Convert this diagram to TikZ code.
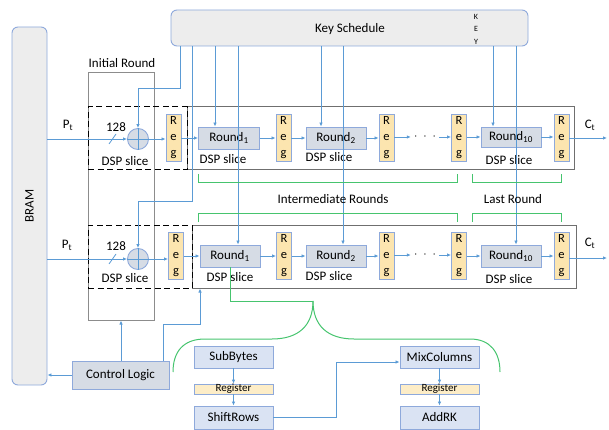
\documentclass[tikz,border=0pt]{standalone}
\usepackage{fontspec}
\setmainfont{Carlito}
\usetikzlibrary{arrows.meta}

\definecolor{lnc}{HTML}{5B9BD5}
\definecolor{bdr}{HTML}{8EA9DB}
\definecolor{rfill}{HTML}{D6DCE5}
\definecolor{sfill}{HTML}{DAE3F3}
\definecolor{regfill}{HTML}{FCE5AF}
\definecolor{keyfill}{HTML}{EDEDED}
\definecolor{grn}{HTML}{46C46E}
\definecolor{framec}{HTML}{6F6F6F}

\tikzset{
  every node/.style={font=\fontsize{13}{15}\selectfont, inner sep=0pt},
  ln/.style={draw=lnc, line width=0.8pt},
  arr/.style={ln, -{Latex[length=4pt,width=3.5pt]}},
  grnline/.style={draw=grn, line width=1pt},
  roundbox/.style={draw=bdr, fill=rfill, line width=0.9pt, minimum width=61pt, minimum height=22pt},
  regbox/.style={draw=bdr, fill=regfill, line width=0.9pt, minimum width=15pt, minimum height=47pt,
    align=center, font=\fontsize{12.5}{16}\selectfont},
  stagebox/.style={draw=bdr, fill=sfill, line width=0.9pt, minimum width=79pt, minimum height=22pt},
  thinreg/.style={draw=bdr, fill=regfill!70, line width=0.8pt, minimum width=79pt, minimum height=10pt,
    font=\fontsize{11}{12}\selectfont},
  framebox/.style={draw=framec, line width=1pt},
  dashbox/.style={draw=black, line width=1pt, dash pattern=on 6pt off 3.5pt},
  adder/.style={circle, draw=bdr, fill=rfill, line width=0.9pt, minimum size=21pt},
  memory/.style={draw=bdr, fill=keyfill, line width=0.9pt, rounded corners=6pt},
}

\begin{document}
\begin{tikzpicture}[x=1pt,y=-1pt]
\useasboundingbox (0,0) rectangle (609,430);

% ---------- memory and key schedule ----------
\node[memory, minimum width=35pt, minimum height=358pt] (bram) at (29.5,206) {};
\node[rotate=90] at (bram.center) {BRAM};
\node[memory, minimum width=357pt, minimum height=36pt] (keysch) at (349.5,28) {};
\node at (350,29) {Key Schedule};
\node[align=center, font=\fontsize{8}{12.5}\selectfont] (keylbl) at (476,29) {K\\E\\Y};

% ---------- frames ----------
\node[draw=framec!80, line width=1pt, minimum width=66pt, minimum height=247pt] (init) at (121,196.5) {};
\node (initlbl) at (122,63) {Initial Round};
\node[framebox, minimum width=387pt, minimum height=63pt] (rowt) at (380.5,138.5) {};
\node[framebox, minimum width=384pt, minimum height=63pt] (rowb) at (384,256.5) {};
\node[dashbox, minimum width=99pt, minimum height=63pt] (dspt) at (137.5,138.5) {};
\node[dashbox, minimum width=104pt, minimum height=63pt] (dspb) at (140,256.5) {};

% ---------- top pipeline ----------
\node[adder] (add1) at (138,139) {};
\draw[lnc, line width=0.8pt] (add1.north) -- (add1.south) (add1.west) -- (add1.east);
\node[regbox] (reg0t) at (173.5,138) {R\\e\\g};
\node[roundbox] (r1t) at (229,138) {Round\textsubscript{1}};
\node[regbox] (reg1t) at (283.5,138) {R\\e\\g};
\node[roundbox, minimum width=60pt] (r2t) at (336,138) {Round\textsubscript{2}};
\node[regbox] (reg2t) at (386.5,138) {R\\e\\g};
\node (dotst) at (425,137) {$\cdot\;\cdot\;\cdot$};
\node[regbox] (reg3t) at (459,138) {R\\e\\g};
\node[roundbox, minimum width=60pt, minimum height=20pt] (r10t) at (511,137) {Round\textsubscript{10}};
\node[regbox] (reg4t) at (561.5,138) {R\\e\\g};
\coordinate (ctout) at (607,138);

\node at (68,125) {P\textsubscript{t}};
\node at (590,125) {C\textsubscript{t}};
\node at (116,127) {128};
\node at (125,161) {DSP slice};
\node at (223,159) {DSP slice};
\node at (329,157) {DSP slice};
\node at (509,160) {DSP slice};

\draw[arr] (bram.east |- add1.west) -- (add1.west);
\draw[ln] (109,144) -- (116,134);
\draw[arr] (add1.east) -- (reg0t.west |- add1.east);
\draw[arr] (reg0t.east |- r1t.west) -- (r1t.west);
\draw[arr] (r1t.east) -- (reg1t.west |- r1t.east);
\draw[arr] (reg1t.east |- r2t.west) -- (r2t.west);
\draw[arr] (r2t.east) -- (reg2t.west |- r2t.east);
\draw[arr] (reg2t.east |- dotst.west) -- ([xshift=-3pt]dotst.west);
\draw[arr] ([xshift=3pt]dotst.east) -- (reg3t.west |- dotst.east);
\draw[arr] (reg3t.east |- r10t.west) -- (r10t.west);
\draw[arr] (r10t.east) -- (reg4t.west |- r10t.east);
\draw[arr] (reg4t.east) -- (ctout);

% ---------- bottom pipeline ----------
\node[adder] (add2) at (138,259) {};
\draw[lnc, line width=0.8pt] (add2.north) -- (add2.south) (add2.west) -- (add2.east);
\node[regbox] (reg0b) at (176,256) {R\\e\\g};
\node[roundbox, minimum width=60pt] (r1b) at (230,256) {Round\textsubscript{1}};
\node[regbox] (reg1b) at (284,256) {R\\e\\g};
\node[roundbox, minimum width=60pt] (r2b) at (336,256) {Round\textsubscript{2}};
\node[regbox] (reg2b) at (386.5,256) {R\\e\\g};
\node (dotsb) at (425,255) {$\cdot\;\cdot\;\cdot$};
\node[regbox] (reg3b) at (459,256) {R\\e\\g};
\node[roundbox, minimum width=60pt] (r10b) at (511,256) {Round\textsubscript{10}};
\node[regbox] (reg4b) at (561.5,256) {R\\e\\g};
\coordinate (ctoutb) at (607,258);

\node at (67,245) {P\textsubscript{t}};
\node at (590,243) {C\textsubscript{t}};
\node at (116,246) {128};
\node at (125,278) {DSP slice};
\node at (230,277) {DSP slice};
\node at (329,276) {DSP slice};
\node at (509,279) {DSP slice};

\draw[arr] (bram.east |- add2.west) -- (add2.west);
\draw[ln] (109,264) -- (116,254);
\draw[arr] (add2.east) -- (reg0b.west |- add2.east);
\draw[arr] (reg0b.east |- r1b.west) -- (r1b.west);
\draw[arr] (r1b.east) -- (reg1b.west |- r1b.east);
\draw[arr] (reg1b.east |- r2b.west) -- (r2b.west);
\draw[arr] (r2b.east) -- (reg2b.west |- r2b.east);
\draw[arr] (reg2b.east |- dotsb.west) -- ([xshift=-3pt]dotsb.west);
\draw[arr] ([xshift=3pt]dotsb.east) -- (reg3b.west |- dotsb.east);
\draw[arr] (reg3b.east |- r10b.west) -- (r10b.west);
\draw[arr] (r10b.east) -- (reg4b.west |- r10b.east);
\draw[arr] (reg4b.east |- ctoutb) -- (ctoutb);

% ---------- round keys ----------
\coordinate (k1) at (180,46);
\coordinate (k2) at (192,46);
\coordinate (k3) at (215,46);
\coordinate (k4) at (238,46);
\coordinate (k5) at (321,46);
\coordinate (k6) at (343,46);
\coordinate (k7) at (493,46);
\coordinate (k8) at (516,46);
\draw[arr] (k1) -- ++(0,42) -| (add1.north);
\draw[arr] (k2) -- ++(0,155) -| (add2.north);
\draw[arr] (k3) -- (k3 |- r1t.north);
\draw[arr] (k4) -- (k4 |- r1b.north);
\draw[arr] (k5) -- (k5 |- r2t.north);
\draw[arr] (k6) -- (k6 |- r2b.north);
\draw[arr] (k7) -- (k7 |- r10t.north);
\draw[arr] (k8) -- (k8 |- r10b.north);

% ---------- round groupings ----------
\draw[grnline] (198,174) -- (198,183) -- (457,183) -- (457,174);
\draw[grnline] (472,174) -- (472,183) -- (561,183) -- (561,174);
\node at (333,199) {Intermediate Rounds};
\node at (513,199) {Last Round};
\draw[grnline] (198,222) -- (198,213) -- (457,213) -- (457,222);
\draw[grnline] (472,222) -- (472,213) -- (561,213) -- (561,222);

% expansion of one round
\coordinate (tip) at (313,301);
\draw[grnline] (r1b.south) -- (r1b.south |- tip) -- (tip);
\draw[grnline] (tip) .. controls (313,326) and (298,339) .. (272,339) -- (205,339)
  .. controls (183,339) and (173,352) .. (173,372);
\draw[grnline] (tip) .. controls (313,326) and (328,339) .. (354,339) -- (470,339)
  .. controls (490,339) and (500,352) .. (500,372);

% ---------- control ----------
\node[draw=bdr, fill=rfill, line width=0.9pt, minimum width=97pt, minimum height=28pt] (ctrl) at (120.5,375) {Control Logic};
\draw[arr] (ctrl.west) -- (bram.east |- ctrl.west);
\draw[arr] (ctrl.north -| init.south) -- (init.south);
\coordinate (c1) at (163,361);
\coordinate (c2) at (200,324);
\draw[arr] (c1) |- (c2) -- (c2 |- rowb.south);

% ---------- round internals ----------
\node[stagebox] (sub) at (233.5,357) {SubBytes};
\node[thinreg] (regA) at (233.5,389) {Register};
\node[stagebox, minimum height=23pt] (shift) at (233.5,417.5) {ShiftRows};
\node[stagebox] (mix) at (439.5,357) {MixColumns};
\node[thinreg] (regB) at (439.5,389) {Register};
\node[stagebox, minimum height=23pt] (addrk) at (439.5,417.5) {AddRK};

\draw[arr] (sub) -- (regA);
\draw[arr] (regA) -- (shift);
\draw[arr] (mix) -- (regB);
\draw[arr] (regB) -- (addrk);
\coordinate (s1) at (336,417.5);
\coordinate (s2) at (336,362);
\draw[arr] (shift.east) -- (s1) -- (s2) -- (mix.west |- s2);
\end{tikzpicture}
\end{document}
